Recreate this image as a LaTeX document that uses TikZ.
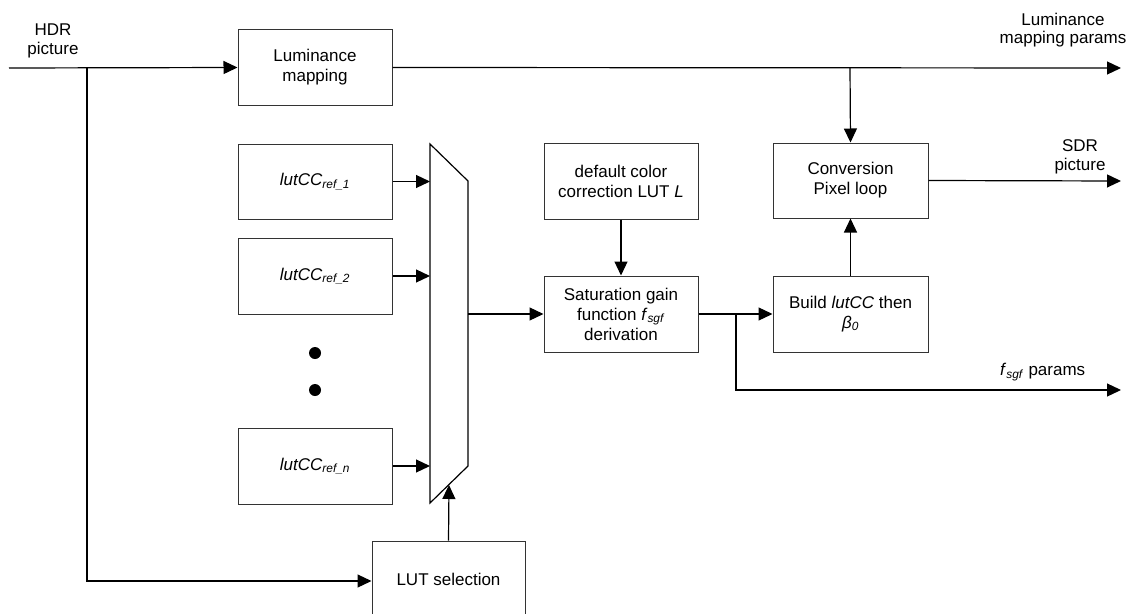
\documentclass[tikz,border=0pt]{standalone}
\usepackage{fontspec}
\setmainfont{Liberation Sans}
\usetikzlibrary{arrows.meta}
\begin{document}
\begin{tikzpicture}[x=1pt,y=-1pt,
  blk/.style={draw=black!80,line width=1pt,minimum width=154pt,minimum height=76pt,inner sep=0pt,align=center,font=\fontsize{17}{20}\selectfont},
  lbl/.style={align=center,inner sep=0pt,font=\fontsize{17}{18.5}\selectfont},
  conn/.style={line width=1.2pt,draw=black},
  arr/.style={conn,-{Triangle[length=14pt,width=13pt]}}]
\useasboundingbox (0,0) rectangle (1129,613);
\clip (0,0) rectangle (1129,613);
% blocks
\node[blk] (lum) at (315,67.5) {Luminance\\mapping};
\node[blk,minimum height=75pt] (lut1) at (315,181.5) {\textit{lutCC}\textsubscript{\textit{ref\_1}}};
\node[blk] (lut2) at (315,276) {\textit{lutCC}\textsubscript{\textit{ref\_2}}};
\node[blk] (lutn) at (315,466) {\textit{lutCC}\textsubscript{\textit{ref\_n}}};
\node[blk] (dcc) at (621,181) {default color\\correction LUT \textit{L}};
\node[blk] (sat) at (621,314) {Saturation gain\\function \textit{f}\textsubscript{\textit{sgf}}\\derivation};
\node[blk,minimum width=155pt,minimum height=75pt] (conv) at (850.5,180.5) {Conversion\\Pixel loop};
\node[blk,minimum width=155pt] (build) at (850.5,314) {Build \textit{lutCC} then\\\textit{β\textsubscript{0}}};
\node[blk,minimum width=153pt] (lutsel) at (448.5,579) {LUT selection};
% dots
\node[circle,fill=black,inner sep=0pt,minimum size=12pt] (d1) at (315,353) {};
\node[circle,fill=black,inner sep=0pt,minimum size=12pt] (d2) at (315,390) {};
% multiplexer
\coordinate (m1) at (430,144);
\coordinate (m2) at (468,181);
\coordinate (m3) at (468,466);
\coordinate (m4) at (430,503);
\draw[line width=1.2pt] (m1) -- (m2) -- (m3) -- (m4) -- cycle;
\coordinate (min1) at (430,181.5);
\coordinate (min2) at (430,276);
\coordinate (minn) at (430,466);
\coordinate (mout) at (468,314);
\coordinate (msel) at (449,485);
% labels
\node[lbl] (hdr) at (53,41) {HDR\\picture};
\node[lbl] (lmp) at (1063,30) {Luminance\\mapping params};
\node[lbl] (sdr) at (1080,157) {SDR\\picture};
\node[lbl,anchor=west] (fp) at (1000,372) {\textit{f}\textsubscript{\textit{sgf}} params};
% connector coordinates
\coordinate (hin) at (9,68);
\coordinate (j1) at (87,68);
\coordinate (j2) at (850,68);
\coordinate (lout) at (1121,68);
\coordinate (sout) at (1121,181);
\coordinate (j3) at (736,314);
\coordinate (fout) at (1121,390);
% connectors
\draw[arr] (hin) -- (lum.west);
\draw[arr] (j1) |- ([yshift=-2pt]lutsel.west);
\draw[arr] (lum.east) -- (lout);
\draw[arr] (j2) -- (conv.north);
\draw[arr] (conv.east) -- (sout);
\draw[arr] (build.north) -- (conv.south);
\draw[arr] (sat.east) -- (build.west);
\draw[arr] (j3) |- (fout);
\draw[arr] (dcc.south) -- (sat.north);
\draw[arr] (mout) -- (sat.west);
\draw[arr] (lut1.east) -- (min1);
\draw[arr] (lut2.east) -- (min2);
\draw[arr] (lutn.east) -- (minn);
\draw[arr] (lutsel.north) -- (msel);
\end{tikzpicture}
\end{document}
